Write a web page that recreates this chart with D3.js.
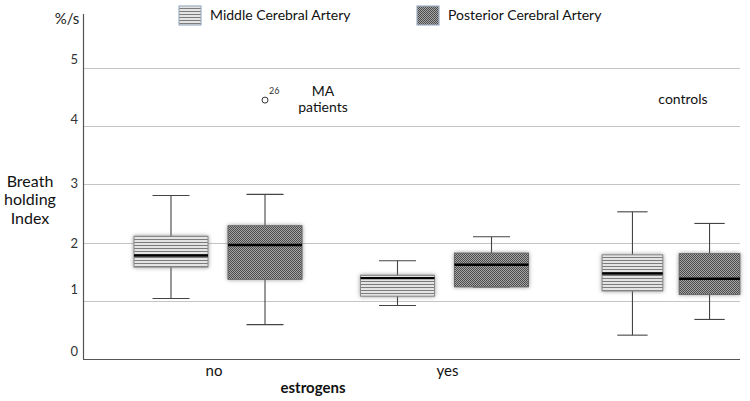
<!DOCTYPE html>
<html>
<head>
<meta charset="utf-8">
<script src="https://cdn.jsdelivr.net/npm/d3@7/dist/d3.min.js"></script>
<style>
  html, body { margin: 0; padding: 0; background: #fff; }
  svg { display: block; font-family: Lato, "Open Sans", "Liberation Sans", sans-serif; }
</style>
</head>
<body>
<svg id="chart" width="750" height="401"></svg>
<script>
// ---------- data ----------
const groups = ["no", "yes", "controls"];
const groupLabels = ["no", "yes", ""];
const seriesNames = ["Middle Cerebral Artery", "Posterior Cerebral Artery"];

const mcaMin    = [1.04, 0.92, 0.41];
const mcaQ1     = [1.58, 1.08, 1.17];
const mcaMedian = [1.78, 1.39, 1.47];
const mcaQ3     = [2.11, 1.44, 1.79];
const mcaMax    = [2.81, 1.69, 2.53];

const pcaMin    = [0.59, 1.24, 0.68];
const pcaQ1     = [1.37, 1.24, 1.11];
const pcaMedian = [1.96, 1.62, 1.38];
const pcaQ3     = [2.29, 1.82, 1.81];
const pcaMax    = [2.83, 2.10, 2.33];

const outlierGroups = ["no"];
const outlierSeries = [1];
const outlierValues = [4.45];
const outlierLabels = ["26"];

const yTicks = [0, 1, 2, 3, 4, 5];

(function draw() {
  const boxes = [];
  groups.forEach((g, i) => {
    boxes.push({group: g, s: 0, min: mcaMin[i], q1: mcaQ1[i], med: mcaMedian[i], q3: mcaQ3[i], max: mcaMax[i]});
    boxes.push({group: g, s: 1, min: pcaMin[i], q1: pcaQ1[i], med: pcaMedian[i], q3: pcaQ3[i], max: pcaMax[i]});
  });

  const svg = d3.select("#chart");
  const mLeft = 83, mRight = 740, mBottom = 359, mTop = 14;

  const y = d3.scaleLinear().domain([0, 5.93]).range([mBottom, mTop]);
  const x0 = d3.scalePoint().domain(groups).range([218, 671]);
  const x1 = d3.scaleBand().domain([0, 1]).range([-84, 84]).paddingInner(0.213);
  const groupSpread = g => g === "controls" ? 0.82 : 1;

  const boxX = d => x0(d.group) + x1(d.s) * groupSpread(d.group);
  const boxW = d => x1.bandwidth() * groupSpread(d.group);

  const defs = svg.append("defs");
  const p0 = defs.append("pattern").attr("id", "pat0").attr("patternUnits", "userSpaceOnUse")
    .attr("width", 6).attr("height", 3);
  p0.append("rect").attr("width", 6).attr("height", 3).attr("fill", "#e4e4e4");
  p0.append("rect").attr("y", 2).attr("width", 6).attr("height", 1).attr("fill", "#7c7c7c");

  const p1 = defs.append("pattern").attr("id", "pat1").attr("patternUnits", "userSpaceOnUse")
    .attr("width", 2).attr("height", 2);
  p1.append("rect").attr("width", 2).attr("height", 2).attr("fill", "#a6a6a6");
  p1.append("rect").attr("width", 1).attr("height", 1).attr("fill", "#4c4c4c");
  p1.append("rect").attr("x", 1).attr("y", 1).attr("width", 1).attr("height", 1).attr("fill", "#4c4c4c");

  const f = defs.append("filter").attr("id", "glow").attr("x", "-30%").attr("y", "-30%").attr("width", "160%").attr("height", "160%");
  f.append("feDropShadow").attr("dx", 0).attr("dy", 0).attr("stdDeviation", 2.2)
    .attr("flood-color", "#777").attr("flood-opacity", 0.75);

  // gridlines
  svg.append("g").selectAll("line").data(yTicks.filter(t => t > 0)).join("line")
    .attr("x1", mLeft).attr("x2", mRight)
    .attr("y1", d => Math.round(y(d)) + 0.5).attr("y2", d => Math.round(y(d)) + 0.5)
    .attr("stroke", "#c4c4c4").attr("stroke-width", 1);

  // axis lines
  svg.append("line").attr("x1", mLeft + 0.5).attr("x2", mLeft + 0.5).attr("y1", y(5.93)).attr("y2", mBottom)
    .attr("stroke", "#555").attr("stroke-width", 1.2);
  svg.append("line").attr("x1", mLeft).attr("x2", mRight).attr("y1", mBottom + 0.5).attr("y2", mBottom + 0.5)
    .attr("stroke", "#555").attr("stroke-width", 1.2);

  // y tick labels (placed slightly above their lines, irregularly, as in the original)
  const labelShift = {0: -8, 1: -11, 2: 1, 3: -1, 4: -7, 5: -9};
  svg.append("g").selectAll("text").data(yTicks).join("text")
    .attr("x", 78).attr("y", d => y(d) + labelShift[d])
    .attr("dy", "0.35em").attr("text-anchor", "end")
    .attr("font-size", 13).attr("fill", "#333").text(d => d);

  svg.append("text").attr("x", 67).attr("y", 19).attr("dy", "0.35em").attr("text-anchor", "middle")
    .attr("font-size", 15).attr("fill", "#222").text("%/s");

  const yt = svg.append("text").attr("text-anchor", "middle").attr("font-size", 16).attr("fill", "#111");
  ["Breath", "holding", "Index"].forEach((t, i) => {
    yt.append("tspan").attr("x", 30).attr("y", 187 + i * 18.3).text(t);
  });

  // x labels
  svg.append("g").selectAll("text").data(groups).join("text")
    .attr("x", d => x0(d) + (d === "no" ? -4 : 3)).attr("y", 376)
    .attr("text-anchor", "middle").attr("font-size", 15).attr("fill", "#111")
    .text((d, i) => groupLabels[i]);
  svg.append("text").attr("x", 313).attr("y", 393).attr("text-anchor", "middle")
    .attr("font-size", 15).attr("font-weight", "bold").attr("fill", "#111").text("estrogens");

  // boxes
  const bx = svg.append("g").selectAll("g").data(boxes).join("g");
  const cx = d => boxX(d) + boxW(d) / 2;

  bx.append("line")
    .attr("x1", cx).attr("x2", cx)
    .attr("y1", d => y(d.max)).attr("y2", d => y(d.min))
    .attr("stroke", "#444").attr("stroke-width", 1.1);
  bx.append("line")
    .attr("x1", d => boxX(d) + boxW(d) / 4).attr("x2", d => boxX(d) + boxW(d) * 3 / 4)
    .attr("y1", d => y(d.max)).attr("y2", d => y(d.max))
    .attr("stroke", "#444").attr("stroke-width", 1.1);
  bx.append("line")
    .attr("x1", d => boxX(d) + boxW(d) / 4).attr("x2", d => boxX(d) + boxW(d) * 3 / 4)
    .attr("y1", d => y(d.min)).attr("y2", d => y(d.min))
    .attr("stroke", "#444").attr("stroke-width", 1.1);

  bx.append("rect")
    .attr("x", d => boxX(d)).attr("width", d => boxW(d))
    .attr("y", d => y(d.q3)).attr("height", d => y(d.q1) - y(d.q3))
    .attr("fill", d => `url(#pat${d.s})`)
    .attr("stroke", d => d.s === 0 ? "#8a8a8a" : "#666").attr("stroke-width", 1)
    .attr("filter", "url(#glow)");

  bx.append("line")
    .attr("x1", d => boxX(d)).attr("x2", d => boxX(d) + boxW(d))
    .attr("y1", d => y(d.med)).attr("y2", d => y(d.med))
    .attr("stroke", "#000").attr("stroke-width", 2.4);

  // outliers
  outlierValues.forEach((v, i) => {
    const d = boxes.find(b => b.group === outlierGroups[i] && b.s === outlierSeries[i]);
    svg.append("circle").attr("cx", cx(d)).attr("cy", y(v)).attr("r", 3)
      .attr("fill", "#fff").attr("stroke", "#333").attr("stroke-width", 1);
    svg.append("text").attr("x", cx(d) + 4).attr("y", y(v) - 6).attr("font-size", 9)
      .attr("fill", "#333").text(outlierLabels[i]);
  });

  // annotations
  svg.append("text").attr("x", 323).attr("y", 96).attr("text-anchor", "middle").attr("font-size", 14).attr("fill", "#111").text("MA");
  svg.append("text").attr("x", 323).attr("y", 112).attr("text-anchor", "middle").attr("font-size", 14).attr("fill", "#111").text("patients");
  svg.append("text").attr("x", 683).attr("y", 104).attr("text-anchor", "middle").attr("font-size", 14).attr("fill", "#111").text("controls");

  // legend
  const legendX = [179, 417];
  const lg = svg.append("g").selectAll("g").data(seriesNames).join("g");
  lg.append("rect").attr("x", (d, i) => legendX[i]).attr("y", 6).attr("width", 22).attr("height", 19)
    .attr("fill", (d, i) => `url(#pat${i})`).attr("stroke", "#9fb0c4").attr("stroke-width", 1.2);
  lg.append("text").attr("x", (d, i) => legendX[i] + 31).attr("y", 20)
    .attr("font-size", 14).attr("fill", "#111").text(d => d);
})();
</script>
</body>
</html>
